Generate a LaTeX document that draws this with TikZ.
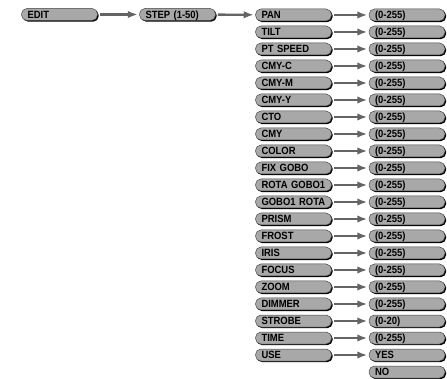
\documentclass[tikz,border=0pt]{standalone}
\usepackage{fontspec}
\setmainfont{Liberation Sans}[FakeStretch=0.9]
\usepackage{xcolor}
\usetikzlibrary{arrows.meta,positioning,shadows}
\definecolor{KeyGrey}{RGB}{168,168,168}
\definecolor{KeyEdge}{RGB}{70,70,70}
\definecolor{ArrowGrey}{RGB}{100,100,100}

\tikzset{
  menubox/.style={rectangle, rounded corners=5.5pt, fill=KeyGrey, draw=KeyEdge, line width=0.5pt,
    drop shadow={shadow xshift=1.2pt, shadow yshift=-1.2pt, fill=black, opacity=1},
    minimum height=12pt, text width=64pt, text height=7.5pt, text depth=0pt,
    inner xsep=6pt, inner ysep=0pt, align=left,
    font=\bfseries\fontsize{10.5}{11}\selectfont},
  menuarrow/.style={draw=ArrowGrey, line width=2.4pt, -{Latex[length=10pt,width=7.5pt]},
    shorten <=2pt, shorten >=1.5pt}
}

\begin{document}
\begin{tikzpicture}[x=1pt, y=-1pt]
    \useasboundingbox (0,0) rectangle (447,379);

    % Menu root and step selection
    \node[menubox] (edit) at (59.5,14.5) {EDIT};
    \node[menubox] (step) at (177.5,14.5) {STEP (1-50)};
    \draw[menuarrow] (edit) -- (step);

    % Channel list with value ranges
    \foreach \name/\range [count=\i] in {PAN/(0-255), TILT/(0-255), PT SPEED/(0-255), CMY-C/(0-255),
        CMY-M/(0-255), CMY-Y/(0-255), CTO/(0-255), CMY/(0-255), COLOR/(0-255), FIX GOBO/(0-255),
        ROTA GOBO1/(0-255), GOBO1 ROTA/(0-255), PRISM/(0-255), FROST/(0-255), IRIS/(0-255),
        FOCUS/(0-255), ZOOM/(0-255), DIMMER/(0-255), STROBE/(0-20), TIME/(0-255), USE/YES} {
      \node[menubox] (chan\i) at (293.5,{15+17*(\i-1)}) {\name};
      \node[menubox] (val\i) at (407,{15+17*(\i-1)}) {\range};
      \draw[menuarrow] (chan\i) -- (val\i);
    }
    \draw[menuarrow] (step) -- (chan1);

    % Second option for USE
    \node[menubox] (valno) at (407,372) {NO};
\end{tikzpicture}
\end{document}
